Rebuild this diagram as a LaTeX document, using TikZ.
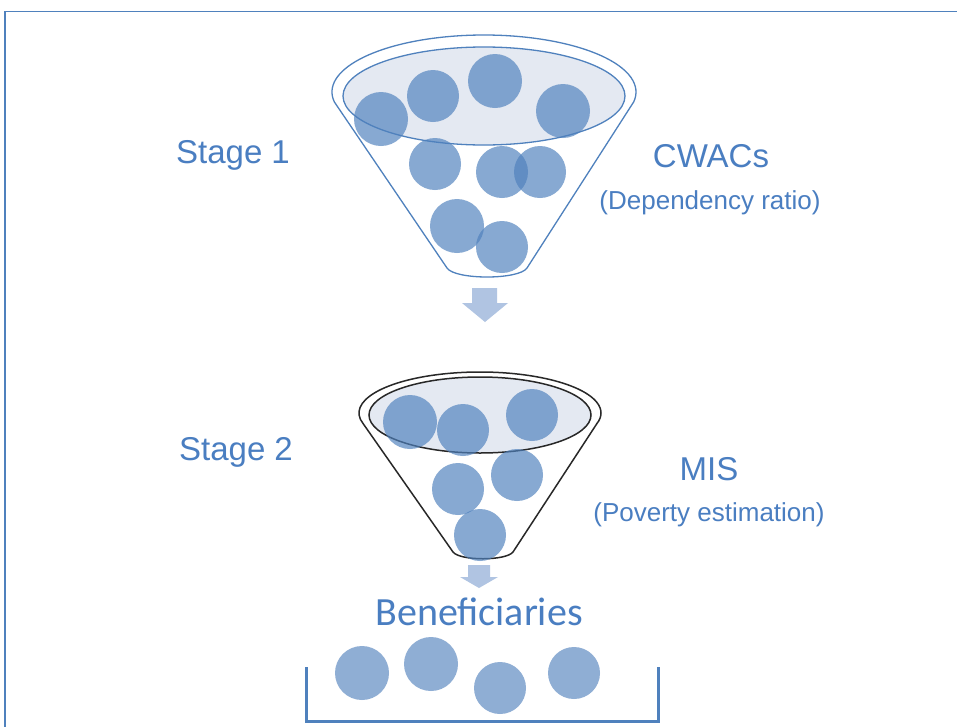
\documentclass[tikz,border=0pt]{standalone}
\usepackage{fontspec}
\setmainfont{Liberation Sans}
\newfontfamily\calibrifont{Carlito}
\definecolor{accent}{RGB}{79,129,189}
\definecolor{labelblue}{RGB}{74,126,193}
\definecolor{rimfill}{RGB}{228,233,242}
\definecolor{arrowblue}{RGB}{176,196,226}
\definecolor{ballsolid}{RGB}{143,174,212}
\definecolor{darkline}{RGB}{40,40,40}
\tikzset{
  ball/.style={fill=accent, fill opacity=0.68, draw=none},
  restball/.style={fill=ballsolid, draw=none},
  bigtxt/.style={text=labelblue, font=\fontsize{33}{38}\selectfont, anchor=base, inner sep=0pt},
  smalltxt/.style={text=labelblue, font=\fontsize{26}{30}\selectfont, anchor=base, inner sep=0pt},
  flowarrow/.style={fill=arrowblue, draw=none},
}
\begin{document}
\begin{tikzpicture}[x=1pt,y=-1pt]
\useasboundingbox (0,0) rectangle (957,726);
\fill[white] (0,0) rectangle (957,726);

% outer frame
\draw[accent, line width=1.5pt] (5,740) -- (5,11.5) -- (970,11.5);

% ---- stage 1 funnel ----
\draw[accent, line width=1.3pt, fill=white]
  (484,92) ++(170:152 and 57) arc[start angle=170, end angle=370, x radius=152, y radius=57]
  -- (527,268) .. controls (519,280) and (455,280) .. (447,268) -- cycle;
\draw[accent, line width=1.3pt, fill=rimfill] (484,96) ellipse[x radius=141, y radius=49];
\foreach \x/\y/\r in {381/119/27, 433/96/26, 495/81/27, 563/111/27, 435/164/26,
                      502/172/26, 540/172/26, 457/226/27, 502/247/26}
  \fill[ball] (\x,\y) circle[radius=\r];

\fill[flowarrow] (472,288) -- (497,288) -- (497,303) -- (508,303) -- (485,322)
  -- (462,303) -- (472,303) -- cycle;

% ---- stage 2 funnel ----
\draw[darkline, line width=1.5pt, fill=white]
  (480,413) ++(165:121 and 41) arc[start angle=165, end angle=375, x radius=121, y radius=41]
  -- (513,552) .. controls (506,561) and (460,561) .. (453,552) -- cycle;
\draw[darkline, line width=1.5pt, fill=rimfill] (480,415) ellipse[x radius=111, y radius=38];
\foreach \x/\y/\r in {410/422/27, 463/430/26, 532/415/26, 517/475/26, 458/489/26, 480/535/26}
  \fill[ball] (\x,\y) circle[radius=\r];

\fill[flowarrow] (468,565) -- (490,565) -- (490,577) -- (498,577) -- (479,588)
  -- (460,577) -- (468,577) -- cycle;

% ---- beneficiaries ----
\node[text=labelblue, font=\calibrifont\fontsize{40}{46}\selectfont, anchor=base, inner sep=0pt]
  (benef) at (479,625) {Beneficiaries};
\foreach \x/\y/\r in {362/673/27, 431/664/27, 500/688/26, 574/673/26}
  \fill[restball] (\x,\y) circle[radius=\r];
\draw[accent, line width=3pt] (306,667) -- (306,721) -- (658,721) -- (658,667);

% ---- labels ----
\node[bigtxt] (stage1) at (233,163) {Stage 1};
\node[bigtxt] (stage2) at (236,460) {Stage 2};
\node[bigtxt] (cwacs) at (711,167) {CWACs};
\node[smalltxt] (dep) at (710,209) {(Dependency ratio)};
\node[bigtxt] (mis) at (709,480) {MIS};
\node[smalltxt] (pov) at (709,521) {(Poverty estimation)};
\end{tikzpicture}
\end{document}
